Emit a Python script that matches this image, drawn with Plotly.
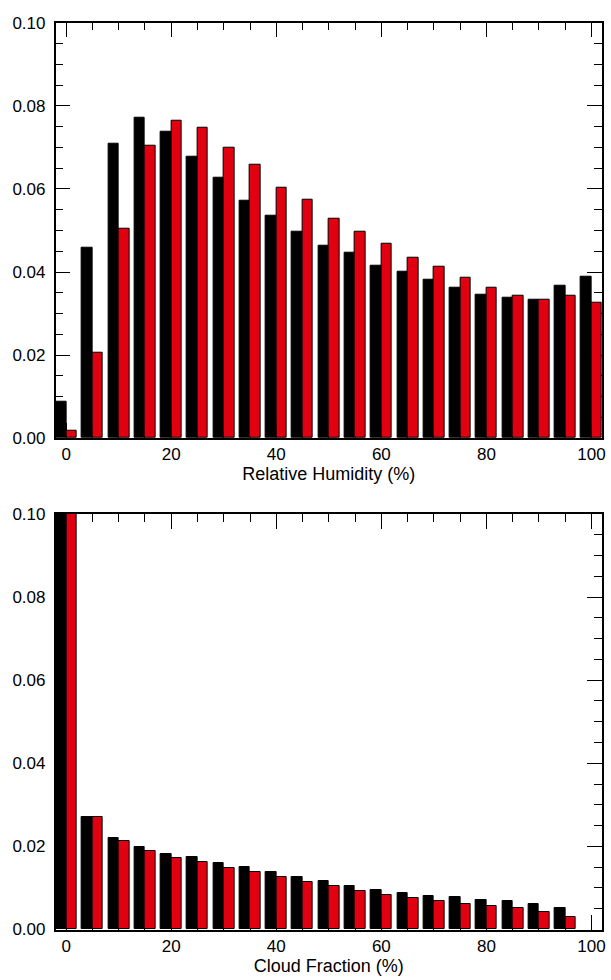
import plotly.graph_objects as go

# Relative humidity histogram (groups at 0,5,...,100)
rh_bins = list(range(0, 101, 5))
rh_black = [0.0089, 0.0459, 0.0709, 0.0771, 0.0738, 0.0677, 0.0626, 0.0571, 0.0535, 0.0498,
            0.0464, 0.0447, 0.0416, 0.0400, 0.0382, 0.0363, 0.0345, 0.0337, 0.0334, 0.0366, 0.0389]
rh_red = [0.0017, 0.0205, 0.0504, 0.0703, 0.0764, 0.0747, 0.0699, 0.0658, 0.0603, 0.0573,
          0.0528, 0.0497, 0.0467, 0.0435, 0.0413, 0.0386, 0.0363, 0.0342, 0.0333, 0.0342, 0.0327]

# Cloud fraction histogram (groups at 0,5,...,95); first bin exceeds the axis range
cf_bins = list(range(0, 96, 5))
cf_black = [0.35, 0.0270, 0.0219, 0.0199, 0.0181, 0.0174, 0.0161, 0.0150, 0.0139, 0.0127,
            0.0116, 0.0105, 0.0096, 0.0087, 0.0081, 0.0077, 0.0072, 0.0068, 0.0062, 0.0051]
cf_red = [0.34, 0.0271, 0.0212, 0.0190, 0.0172, 0.0163, 0.0149, 0.0138, 0.0127, 0.0114,
          0.0104, 0.0092, 0.0084, 0.0075, 0.0069, 0.0062, 0.0057, 0.0052, 0.0043, 0.0031]

x_ticks = [0, 20, 40, 60, 80, 100]
y_ticks = [0.0, 0.02, 0.04, 0.06, 0.08, 0.10]

BLACK = "#000000"
RED = "#E1000F"
FONT = "Liberation Sans"

fig = go.Figure()

def add_pair(bins, blk, red, xa, ya):
    fig.add_trace(go.Bar(x=bins, y=blk, width=2, offset=-2, marker=dict(color=BLACK, line=dict(color="#000000", width=1)),
                         xaxis=xa, yaxis=ya, showlegend=False))
    fig.add_trace(go.Bar(x=bins, y=red, width=2, offset=0, marker=dict(color=RED, line=dict(color="#000000", width=1)),
                         xaxis=xa, yaxis=ya, showlegend=False))

add_pair(rh_bins, rh_black, rh_red, "x", "y")
add_pair(cf_bins, cf_black, cf_red, "x2", "y2")

xdom = [56 / 611, 606 / 611]
top_dom = [1 - 437.7 / 980, 1 - 14 / 980]
bot_dom = [1 - 938.7 / 980, 1 - 515 / 980]

def xaxis(title, anchor):
    return dict(domain=xdom, range=[-2, 102], anchor=anchor, tickvals=x_ticks,
                ticks="inside", ticklen=15, tickwidth=1.2, tickcolor="black",
                minor=dict(dtick=5, tick0=0, ticks="inside", ticklen=8, tickwidth=1.2, tickcolor="black"),
                showline=True, linecolor="black", linewidth=1.5, mirror="ticks",
                showgrid=False, zeroline=False, layer="below traces",
                tickfont=dict(family=FONT, size=17, color="black"),
                title=dict(text=title, font=dict(family=FONT, size=18, color="black"), standoff=0))

def yaxis(dom, anchor):
    return dict(domain=dom, range=[0, 0.1], anchor=anchor, tickvals=y_ticks, tickformat=".2f",
                ticks="inside", ticklen=15, tickwidth=1.2, tickcolor="black",
                minor=dict(dtick=0.005, tick0=0, ticks="inside", ticklen=8, tickwidth=1.2, tickcolor="black"),
                showline=True, linecolor="black", linewidth=1.5, mirror="ticks",
                showgrid=False, zeroline=False, layer="below traces", ticklabelstandoff=5,
                tickfont=dict(family=FONT, size=17, color="black"))

fig.update_layout(
    width=611, height=980,
    margin=dict(l=0, r=0, t=0, b=0),
    paper_bgcolor="white", plot_bgcolor="white",
    barmode="overlay", bargap=0,
    xaxis=xaxis("Relative Humidity (%)", "y"),
    yaxis=yaxis(top_dom, "x"),
    xaxis2=xaxis("Cloud Fraction (%)", "y2"),
    yaxis2=yaxis(bot_dom, "x2"),
)

fig.write_html("out.html")
